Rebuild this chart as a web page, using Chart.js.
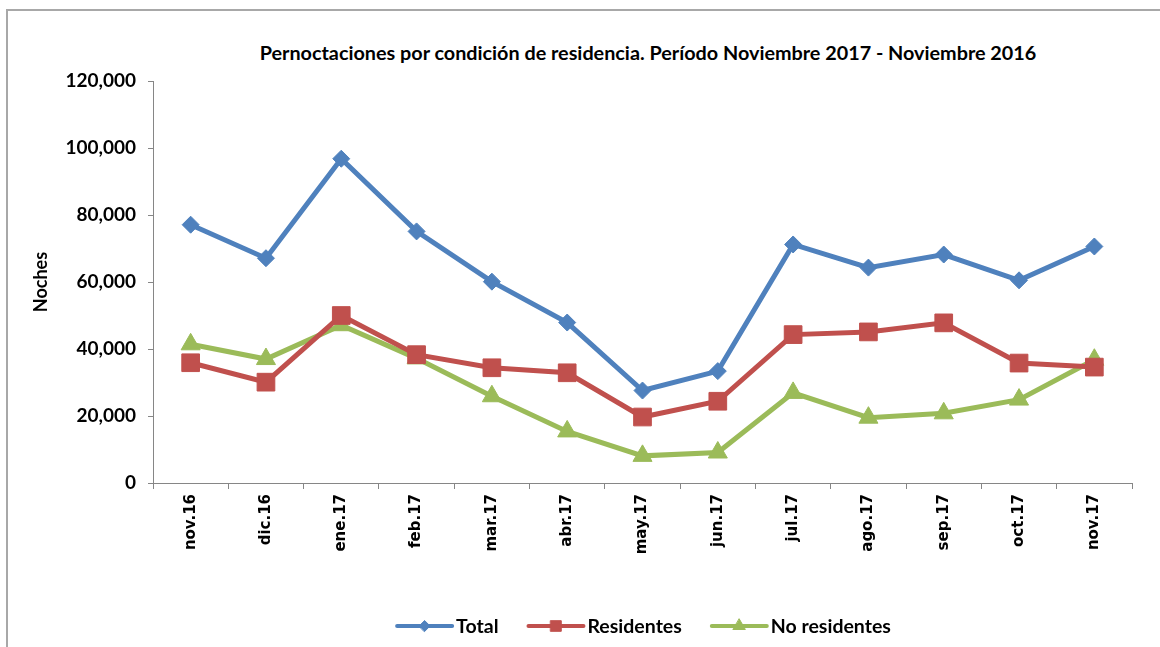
<!DOCTYPE html>
<html>
<head>
<meta charset="utf-8">
<script src="https://cdn.jsdelivr.net/npm/chart.js"></script>
<style>
  body { margin: 0; background: #fff; }
  #wrap { position: relative; width: 1160px; height: 647px; overflow: hidden; }
  #frame { position: absolute; left: 6px; top: 9px; width: 1200px; height: 700px;
           border-top: 2px solid #a8a8a8; border-left: 2px solid #a8a8a8; }
  #title { position: absolute; left: 0; top: 40px; width: 1296px; text-align: center;
           font: bold 19.8px Lato, sans-serif; color: #000; }
  #c { position: absolute; left: 0; top: 0; }
</style>
</head>
<body>
<div id="wrap">
  <div id="frame"></div>
  <div id="title">Pernoctaciones por condición de residencia. Período Noviembre 2017 - Noviembre 2016</div>
  <canvas id="c" width="1160" height="647"></canvas>
</div>
<script>
const meses = ["nov.16", "dic.16", "ene.17", "feb.17", "mar.17", "abr.17", "may.17",
               "jun.17", "jul.17", "ago.17", "sep.17", "oct.17", "nov.17"];
const total = [77100, 67100, 96800, 75100, 60100, 47900, 27600, 33400, 71200, 64300, 68200, 60500, 70600];
const residentes = [35900, 30100, 50000, 38300, 34400, 32900, 19700, 24400, 44300, 45100, 47800, 35800, 34600];
const noResidentes = [41400, 37000, 47100, 37200, 25900, 15400, 8100, 9100, 26900, 19500, 20800, 24900, 36800];
const yTicks = [0, 20000, 40000, 60000, 80000, 100000, 120000];

const azul = "#4F81BD", rojo = "#C0504D", verde = "#9BBB59";
const ejeColor = "#868686";

// leyenda con línea + marcador, como en Excel
const leyendaLinea = {
  id: "leyendaLinea",
  afterDraw(chart) {
    const ctx = chart.ctx;
    const radios = [5.5, 7.5, 7];
    const lineLen = 55, gap = 4, space = 30, y = 626;
    ctx.save();
    ctx.font = "bold 19.5px Lato, sans-serif";
    const items = chart.data.datasets.map((ds, i) => ({ ds, r: radios[i], w: ctx.measureText(ds.label).width }));
    const ancho = items.reduce((s, it) => s + lineLen + gap + it.w, 0) + space * (items.length - 1);
    let x = 644 - ancho / 2;
    items.forEach(it => {
      ctx.strokeStyle = it.ds.borderColor;
      ctx.lineWidth = 4;
      ctx.lineCap = "round";
      ctx.beginPath();
      ctx.moveTo(x, y);
      ctx.lineTo(x + lineLen, y);
      ctx.stroke();
      ctx.fillStyle = it.ds.borderColor;
      ctx.lineWidth = 1;
      Chart.helpers.drawPoint(ctx, { pointStyle: it.ds.pointStyle, radius: it.r, rotation: 0, borderWidth: 1 },
                              x + lineLen / 2, y);
      ctx.fillStyle = "#000";
      ctx.textBaseline = "middle";
      ctx.textAlign = "left";
      ctx.fillText(it.ds.label, x + lineLen + gap, y + 1);
      x += lineLen + gap + it.w + space;
    });
    ctx.restore();
  }
};

new Chart(document.getElementById("c"), {
  type: "line",
  data: {
    labels: meses,
    datasets: [
      { label: "Total", data: total, borderColor: azul, backgroundColor: azul,
        pointStyle: "rectRot", pointRadius: 8.5, pointBorderWidth: 1 },
      { label: "Residentes", data: residentes, borderColor: rojo, backgroundColor: rojo,
        pointStyle: "rect", pointRadius: 12.5, pointBorderWidth: 1 },
      { label: "No residentes", data: noResidentes, borderColor: verde, backgroundColor: verde,
        pointStyle: "triangle", pointRadius: 11, pointBorderWidth: 1 }
    ]
  },
  options: {
    responsive: false,
    animation: false,
    layout: { padding: { left: 20, right: 28, top: 81, bottom: 64 } },
    elements: { line: { borderWidth: 5, tension: 0 } },
    plugins: {
      legend: { display: false },
      title: { display: false },
      tooltip: { enabled: false }
    },
    scales: {
      x: {
        offset: true,
        grid: { offset: true, drawOnChartArea: false, color: ejeColor, tickLength: 6 },
        border: { color: ejeColor, width: 1 },
        ticks: { minRotation: 90, maxRotation: 90, padding: 5, color: "#000",
                 font: { family: "DejaVu Sans", weight: "bold", size: 15 } },
        afterFit: s => { s.height = 100; }
      },
      y: {
        min: 0, max: 120000,
        afterBuildTicks: s => { s.ticks = yTicks.map(v => ({ value: v })); },
        grid: { drawOnChartArea: false, color: ejeColor, tickLength: 5 },
        border: { color: ejeColor, width: 1 },
        ticks: { padding: 12, color: "#000",
                 font: { family: "Lato", weight: "bold", size: 19 },
                 callback: v => v.toLocaleString("en-US") },
        title: { display: true, text: "Noches", color: "#000", padding: { top: 10, bottom: 4 },
                 font: { family: "Lato", weight: "bold", size: 18 } },
        afterFit: s => { s.width = 133; }
      }
    }
  },
  plugins: [leyendaLinea]
});
</script>
</body>
</html>
